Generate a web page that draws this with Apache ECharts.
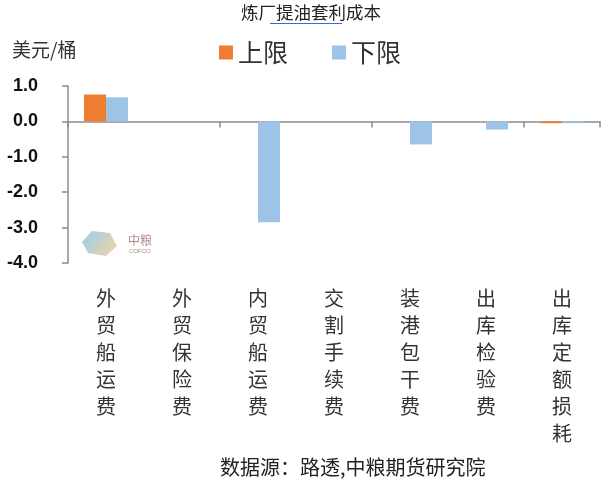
<!DOCTYPE html>
<html>
<head>
<meta charset="utf-8">
<script src="https://cdn.jsdelivr.net/npm/echarts@6/dist/echarts.min.js"></script>
<style>
html, body { margin: 0; padding: 0; background: #fff; }
#main { width: 615px; height: 482px; }
</style>
</head>
<body>
<div id="main"></div>
<script>
// 数据
var categories = ['外贸船运费', '外贸保险费', '内贸船运费', '交割手续费', '装港包干费', '出库检验费', '出库定额损耗'];
var upperData = [0.76, 0, 0, 0, 0, 0, -0.05];
var lowerData = [0.68, 0, -2.85, 0, -0.65, -0.23, -0.05];
var yTicks = [-4, -3, -2, -1, 0, 1];

var fontCn = '"Noto Sans CJK SC", sans-serif';

var myChart = echarts.init(document.getElementById('main'));

var option = {
	backgroundColor: '#fff',
	animation: false,
	title: {
		text: '炼厂提油套利成本',
		left: 306,
		textAlign: 'center',
		top: -1,
		textStyle: { fontFamily: fontCn, fontSize: 17.5, fontWeight: 'normal', color: '#222' }
	},
	legend: {
		data: ['上限', '下限'],
		left: 214,
		top: 35,
		itemWidth: 14,
		itemHeight: 14,
		itemGap: 44,
		icon: 'rect',
		textStyle: { fontFamily: fontCn, fontSize: 25, color: '#333' }
	},
	grid: { left: 68, right: 15, top: 86, bottom: 219, containLabel: false },
	xAxis: [{
		type: 'category',
		data: categories,
		axisLine: { onZero: true, lineStyle: { color: '#8c8c8c', width: 1.5 } },
		axisTick: { show: true, length: 6, lineStyle: { color: '#8c8c8c', width: 1.5 } },
		axisLabel: { show: false }
	}, {
		type: 'category',
		data: categories,
		position: 'bottom',
		axisLine: { show: false },
		axisTick: { show: false },
		axisLabel: {
			margin: 22,
			fontFamily: fontCn,
			fontSize: 20,
			lineHeight: 27,
			verticalAlign: 'top',
			color: '#333',
			interval: 0,
			formatter: function (v) { return v.split('').join('\n'); }
		}
	}],
	yAxis: {
		type: 'value',
		min: yTicks[0],
		max: yTicks[yTicks.length - 1],
		interval: 1,
		axisLine: { show: true, lineStyle: { color: '#8c8c8c', width: 1.5 } },
		axisTick: { show: true, length: 6, lineStyle: { color: '#8c8c8c', width: 1.5 } },
		splitLine: { show: false },
		axisLabel: {
			margin: 30,
			fontFamily: '"Liberation Sans", Arial, sans-serif',
			fontSize: 18,
			fontWeight: 'bold',
			color: '#111',
			formatter: function (v) { return v.toFixed(1); }
		}
	},
	series: [{
		name: '上限',
		type: 'bar',
		xAxisIndex: 0,
		data: upperData,
		barWidth: 22,
		barGap: '0%',
		itemStyle: { color: '#ED7D31' }
	}, {
		name: '下限',
		type: 'bar',
		xAxisIndex: 0,
		data: lowerData,
		barWidth: 22,
		itemStyle: { color: '#9DC3E6' }
	}],
	graphic: [
		// 标题下划线
		{ type: 'line', z: 100, shape: { x1: 270, y1: 23.5, x2: 342, y2: 23.5 }, style: { stroke: '#2f6fd6', lineWidth: 1.2 } },
		{ type: 'text', left: 12, top: 40, style: { text: '美元/桶', fontFamily: fontCn, fontSize: 19, fill: '#333' } },
		// 水印
		{ type: 'polygon', shape: { points: [[82, 242], [92, 231], [110, 233], [117, 246], [106, 256], [88, 253]] },
			style: { fill: new echarts.graphic.LinearGradient(0, 0, 1, 1, [{ offset: 0, color: '#7fc0ea' }, { offset: 1, color: '#f4c98a' }]), opacity: 0.8 } },
		{ type: 'text', left: 128, top: 234, style: { text: '中粮', fontFamily: fontCn, fontSize: 12, fill: '#b08a88' } },
		{ type: 'text', left: 129, top: 248, style: { text: 'COFCO', fontFamily: '"Liberation Sans", sans-serif', fontSize: 6, fill: '#b08a88' } },
		{ type: 'text', left: 220, top: 457, style: { text: '数据源：路透,中粮期货研究院', fontFamily: fontCn, fontSize: 20, fill: '#222' } }
	]
};
myChart.setOption(option);
</script>
</body>
</html>
